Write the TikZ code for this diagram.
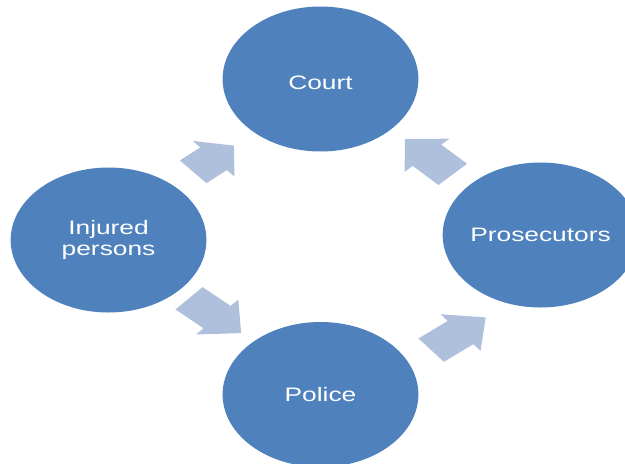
\documentclass[tikz,border=0pt]{standalone}
\usepackage{fontspec}
\setmainfont{Liberation Sans}
\definecolor{nodeblue}{HTML}{4F81BD}
\definecolor{arrowblue}{HTML}{AFC0DC}
% block arrow centred on #1, turned by #2, total length #3, head length #4
\newcommand\blockarrow[4]{%
  \fill[flowarrow, shift={#1}, rotate=#2]
    (-#3/2,-15) -- (#3/2-#4,-15) -- (#3/2-#4,-23.5) -- (#3/2,0)
    -- (#3/2-#4,23.5) -- (#3/2-#4,15) -- (-#3/2,15) -- cycle;}
\begin{document}
\begin{tikzpicture}[x=1pt,y=-1pt,xscale=1.35,transform shape,
  party/.style={circle, fill=nodeblue, minimum size=145pt, inner sep=0pt,
    text=white, align=center, font=\fontsize{19.5}{20.5}\selectfont},
  flowarrow/.style={fill=arrowblue}]
\useasboundingbox (0,0) rectangle (462.96,463);

% the four parties of the cycle
\node[party, text height=20pt, text depth=0pt] (court) at (237.4,79) {Court};
\node[party] (injured)     at (80.4,240)    {Injured\\persons};
\node[party] (prosecutors) at (400.4,235)   {Prosecutors};
\node[party] (police)      at (237.4,394.5) {Police};

% arrows between the parties
\blockarrow{(158.2,158.7)}{41}{40}{20}
\blockarrow{(159.3,315.7)}{-42}{52}{24}
\blockarrow{(317.7,156.7)}{135}{50}{23}
\blockarrow{(339.6,333.8)}{39}{52}{24}
\end{tikzpicture}
\end{document}
